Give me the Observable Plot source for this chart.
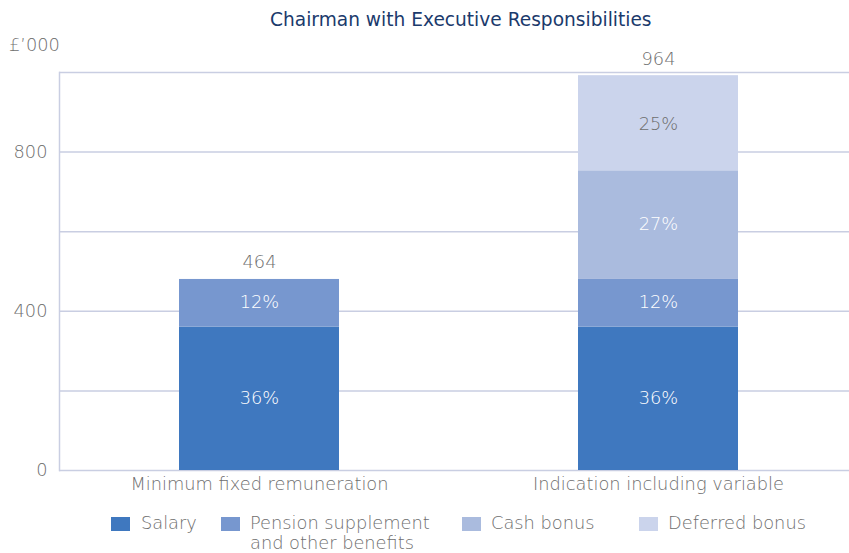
<!DOCTYPE html>
<html>
<head>
<meta charset="utf-8">
<script src="https://cdn.jsdelivr.net/npm/d3@7"></script>
<script src="https://cdn.jsdelivr.net/npm/@observablehq/plot@0.6"></script>
<style>
  body { margin: 0; background: #fff; font-family: "DejaVu Sans", sans-serif; }
  #wrap { position: relative; width: 849px; height: 553px; overflow: hidden; }
  #title { position: absolute; left: 270px; top: 9px; font-size: 18.6px; color: #1b3a6c; white-space: nowrap; }
  #unit { position: absolute; left: 9px; top: 34px; font-size: 17.8px; font-weight: 200; color: #6e6e6e; }
  .leg { position: absolute; top: 513px; font-size: 17.8px; font-weight: 200; color: #6e6e6e; line-height: 20px; white-space: nowrap; }
  .sw { position: absolute; top: 517px; width: 19px; height: 14px; }
</style>
</head>
<body>
<div id="wrap">
  <div id="chart"></div>
  <div id="title">Chairman with Executive Responsibilities</div>
  <div id="unit">£’000</div>
  <div id="legend"></div>
</div>
<script>
const categories = ["Minimum fixed remuneration", "Indication including variable"];
const series = ["Salary", "Pension supplement and other benefits", "Cash bonus", "Deferred bonus"];
const legendLabels = ["Salary", "Pension supplement<br>and other benefits", "Cash bonus", "Deferred bonus"];
const minFixedValues = [360, 120, 0, 0];
const variableValues = [360, 120, 273, 239];
const minFixedPct = ["36%", "12%", "", ""];
const variablePct = ["36%", "12%", "27%", "25%"];
const totalLabels = ["464", "964"];
const colors = ["#3f78bf", "#7797cf", "#aabbde", "#cbd4ec"];
const lightText = [true, true, true, false];
const yTickValues = [0, 400, 800];
const gridValues = [0, 200, 400, 600, 800, 1000];

const valuesByCat = [minFixedValues, variableValues];
const pctByCat = [minFixedPct, variablePct];
const data = [];
categories.forEach((c, i) => {
  series.forEach((s, j) => {
    data.push({cat: c, series: s, value: valuesByCat[i][j], pct: pctByCat[i][j], light: lightText[j]});
  });
});
const totals = categories.map((c, i) => ({cat: c, top: d3.sum(valuesByCat[i]), label: totalLabels[i]}));

const font = "'DejaVu Sans', sans-serif";
const fs = 17.8;
const grey = "#6e6e6e";
const chart = Plot.plot({
  width: 849,
  height: 500,
  marginLeft: 59,
  marginRight: -8,
  marginTop: 72,
  marginBottom: 30,
  style: {fontFamily: font, fontSize: fs + "px", fontWeight: 200, color: grey, background: "transparent"},
  x: {domain: categories, paddingInner: 0.6, paddingOuter: 0.3, label: null},
  y: {domain: [0, 1000], label: null},
  color: {domain: series, range: colors},
  marks: [
    Plot.ruleY(gridValues, {stroke: "#c9cee2", strokeWidth: 1.5}),
    Plot.frame({anchor: "left", stroke: "#c9cee2", strokeWidth: 1.5}),
    Plot.barY(data, {x: "cat", y: "value", fill: "series"}),
    Plot.text(data, Plot.stackY({x: "cat", y: "value", z: "series", text: d => d.light ? d.pct : "", fill: "white", fontSize: fs, fontWeight: 200, dy: -1})),
    Plot.text(data, Plot.stackY({x: "cat", y: "value", z: "series", text: d => d.light ? "" : d.pct, fill: grey, fontSize: fs, fontWeight: 200, dy: 1})),
    Plot.text(totals, {x: "cat", y: "top", text: "label", lineAnchor: "bottom", dy: -11, fill: grey, fontSize: fs, fontWeight: 200}),
    Plot.axisX({tickSize: 0, tickPadding: 7, label: null, fontSize: fs, fill: grey}),
    Plot.axisY(yTickValues, {tickSize: 0, tickPadding: 12, label: null, fontSize: fs, fill: grey})
  ]
});
document.getElementById("chart").appendChild(chart);

const swX = [111, 221, 462, 639];
const txX = [141, 250, 491, 668];
const legend = document.getElementById("legend");
series.forEach((s, j) => {
  const sw = document.createElement("div");
  sw.className = "sw";
  sw.style.left = swX[j] + "px";
  sw.style.background = colors[j];
  legend.appendChild(sw);
  const t = document.createElement("div");
  t.className = "leg";
  t.style.left = txX[j] + "px";
  t.innerHTML = legendLabels[j];
  legend.appendChild(t);
});
</script>
</body>
</html>
